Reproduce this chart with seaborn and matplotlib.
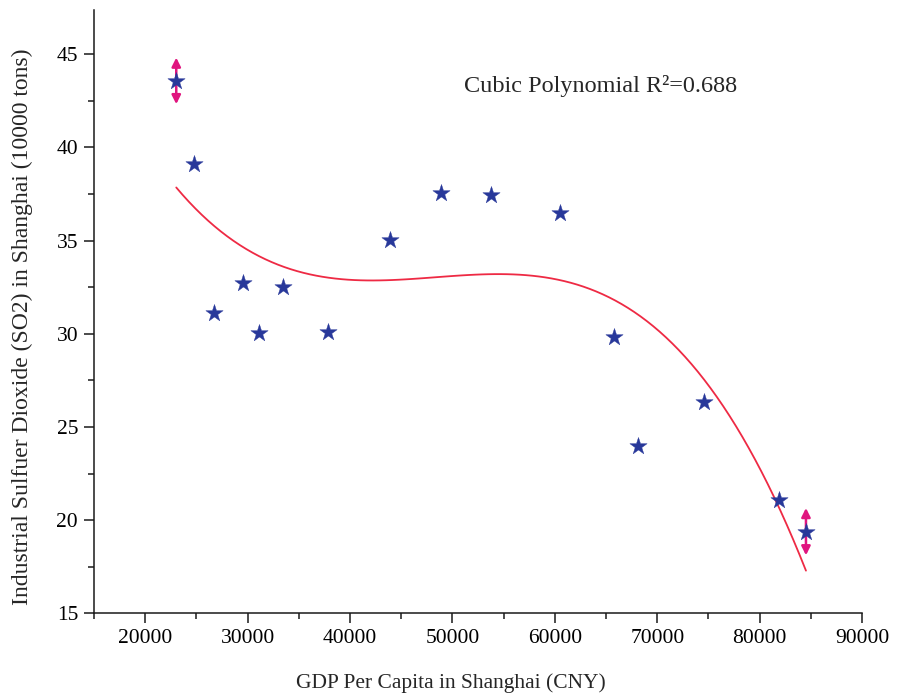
import numpy as np
import pandas as pd
import matplotlib
matplotlib.use("Agg")
import matplotlib.pyplot as plt
import seaborn as sns

# GDP per capita (CNY) and industrial SO2 emissions (10000 tons), Shanghai
gdp_per_capita = [23030, 24790, 26680, 29580, 31140, 33420, 37820, 43950,
                  48930, 53790, 60540, 65750, 68120, 74580, 81880, 84520]
so2_emissions = [43.57, 39.09, 31.12, 32.73, 30.04, 32.52, 30.10, 35.01,
                 37.53, 37.44, 36.46, 29.83, 23.98, 26.35, 21.08, 19.38]

# Points carrying a range marker (index, half-range)
range_idx = [0, 15]
range_half = [1.25, 1.27]

x_ticks = [20000, 30000, 40000, 50000, 60000, 70000, 80000, 90000]
y_ticks = [15, 20, 25, 30, 35, 40, 45]
fit_label = "Cubic Polynomial R\u00b2=0.688"

df = pd.DataFrame({"gdp": gdp_per_capita, "so2": so2_emissions})

sns.set_theme(style="ticks")
plt.rcParams["font.family"] = ["Liberation Serif", "DejaVu Serif"]
plt.rcParams["axes.linewidth"] = 1.1
plt.rcParams["axes.edgecolor"] = "#1a1a1a"

fig = plt.figure(figsize=(8.98, 7.0), dpi=100)
ax = fig.add_axes([0.1047, 0.1239, 0.8553, 0.8625])

star_color = "#28389a"
fit_color = "#ee2a44"
range_color = "#e0157f"

# Cubic regression curve over the data range
sns.regplot(data=df, x="gdp", y="so2", order=3, ci=None, scatter=False,
            truncate=True, ax=ax, line_kws=dict(color=fit_color, lw=1.3))

# Range arrows on the first and last observations
for i, h in zip(range_idx, range_half):
    xv, yv = gdp_per_capita[i], so2_emissions[i]
    for sign in (1, -1):
        ax.annotate("", xy=(xv, yv + sign * h), xytext=(xv, yv),
                    arrowprops=dict(arrowstyle="-|>", color=range_color,
                                    lw=1.8, mutation_scale=13,
                                    shrinkA=0, shrinkB=0))

sns.scatterplot(data=df, x="gdp", y="so2", marker="*", s=170,
                color=star_color, edgecolor=star_color, linewidth=0.3,
                ax=ax, zorder=5)

ax.set_xlim(15000, 90000)
ax.set_ylim(15, 47.4)
ax.set_xticks(x_ticks)
ax.set_yticks(y_ticks)
ax.set_xticks(np.arange(15000, 90001, 5000), minor=True)
ax.set_yticks(np.arange(15, 47.4, 2.5), minor=True)
ax.tick_params(axis="both", which="major", length=7.5, width=1.1,
               labelsize=15.5, colors="#1a1a1a", labelcolor="black", pad=4)
ax.tick_params(axis="both", which="minor", length=4, width=1.1,
               colors="#1a1a1a")
sns.despine(ax=ax)

ax.set_xlabel("GDP Per Capita in Shanghai (CNY)", fontsize=15.5)
ax.set_ylabel("Industrial Sulfuer Dioxide (SO2) in Shanghai (10000 tons)",
              fontsize=17)
ax.xaxis.set_label_coords(0.465, -0.100)
ax.yaxis.set_label_coords(-0.080, 0.475)

ax.text(0.659, 0.873, fit_label, transform=ax.transAxes, ha="center",
        va="center", fontsize=17.5)

fig.savefig("out.png", dpi=100)
